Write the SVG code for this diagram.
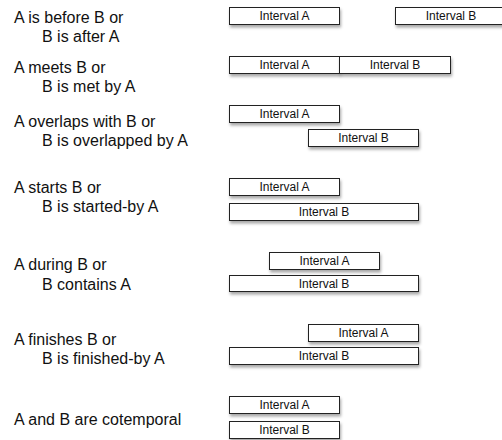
<svg xmlns="http://www.w3.org/2000/svg" width="502" height="440" viewBox="0 0 502 440">
  <defs>
    <filter id="shadow" x="-10%" y="-40%" width="120%" height="200%">
      <feDropShadow dx="1" dy="2.5" stdDeviation="1.6" flood-color="#000" flood-opacity="0.35"/>
    </filter>
    <style>
      .rel { font-family: "Liberation Sans", Arial, Helvetica, sans-serif; font-size: 16px; fill: #111; }
      .bar rect { fill: #fff; stroke: #222; stroke-width: 1; filter: url(#shadow); }
      .bar text { font-family: "Liberation Sans", Arial, Helvetica, sans-serif; font-size: 12px; fill: #111; text-anchor: middle; }
    </style>
  </defs>
  <rect width="502" height="440" fill="#fff"/>

  <!-- relation labels -->
  <g id="labels">
    <text class="rel" x="14" y="22.5">A is before B or</text>
    <text class="rel" x="42" y="41.5">B is after A</text>
    <text class="rel" x="14" y="72.5">A meets B or</text>
    <text class="rel" x="42" y="92">B is met by A</text>
    <text class="rel" x="14" y="126.5">A overlaps with B or</text>
    <text class="rel" x="42" y="145.5">B is overlapped by A</text>
    <text class="rel" x="14" y="193">A starts B or</text>
    <text class="rel" x="42" y="212">B is started-by A</text>
    <text class="rel" x="14" y="270">A during B or</text>
    <text class="rel" x="42" y="289.5">B contains A</text>
    <text class="rel" x="14" y="344.5">A finishes B or</text>
    <text class="rel" x="42" y="363.5">B is finished-by A</text>
    <text class="rel" x="14" y="425">A and B are cotemporal</text>
  </g>

  <!-- before / after -->
  <g id="before-a" class="bar"><rect x="229.5" y="7.5" width="110" height="17"/><text x="284.5" y="20">Interval A</text></g>
  <g id="before-b" class="bar"><rect x="395.5" y="7.5" width="112" height="17"/><text x="451" y="20">Interval B</text></g>

  <!-- meets -->
  <g id="meets-a" class="bar"><rect x="229.5" y="56.5" width="110" height="17"/><text x="284.5" y="69">Interval A</text></g>
  <g id="meets-b" class="bar"><rect x="339.5" y="56.5" width="111" height="17"/><text x="395" y="69">Interval B</text></g>

  <!-- overlaps -->
  <g id="overlaps-a" class="bar"><rect x="229.5" y="105.5" width="110" height="17"/><text x="284.5" y="118">Interval A</text></g>
  <g id="overlaps-b" class="bar"><rect x="308.5" y="129.5" width="110" height="17"/><text x="363.5" y="142">Interval B</text></g>

  <!-- starts -->
  <g id="starts-a" class="bar"><rect x="229.5" y="178.5" width="110" height="17"/><text x="284.5" y="191">Interval A</text></g>
  <g id="starts-b" class="bar"><rect x="229.5" y="203.5" width="189" height="17"/><text x="324" y="216">Interval B</text></g>

  <!-- during -->
  <g id="during-a" class="bar"><rect x="269.5" y="252.5" width="110" height="17"/><text x="324.5" y="265">Interval A</text></g>
  <g id="during-b" class="bar"><rect x="229.5" y="275.5" width="189" height="16"/><text x="324" y="287.5">Interval B</text></g>

  <!-- finishes -->
  <g id="finishes-a" class="bar"><rect x="308.5" y="324.5" width="110" height="17"/><text x="363.5" y="337">Interval A</text></g>
  <g id="finishes-b" class="bar"><rect x="229.5" y="347.5" width="189" height="17"/><text x="324" y="360">Interval B</text></g>

  <!-- cotemporal -->
  <g id="equal-a" class="bar"><rect x="229.5" y="396.5" width="110" height="17"/><text x="284.5" y="409">Interval A</text></g>
  <g id="equal-b" class="bar"><rect x="229.5" y="421.5" width="110" height="17"/><text x="284.5" y="434">Interval B</text></g>

  <!-- no connectors in this chart -->
  <g id="connectors"/>
</svg>
